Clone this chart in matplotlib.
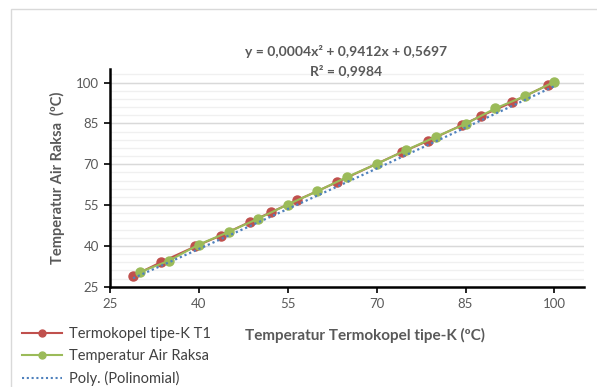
import numpy as np
import matplotlib
matplotlib.use('Agg')
import matplotlib.pyplot as plt
from matplotlib.lines import Line2D
from matplotlib.patches import Rectangle

plt.rcParams['font.family'] = ['Lato', 'DejaVu Sans']

# data
t1_x = [28.9, 33.6, 39.4, 43.7, 48.6, 52.2, 56.6, 63.3, 74.2, 78.7, 84.4, 87.7, 92.8, 98.9]
t1_y = [29.0, 34.0, 39.8, 43.8, 48.8, 52.4, 56.8, 63.4, 74.4, 78.6, 84.4, 87.8, 92.7, 99.1]
raksa_x = [30, 35, 40, 45, 50, 55, 60, 65, 70, 75, 80, 85, 90, 95, 100]
raksa_y = [30.3, 34.6, 40.5, 45.1, 50.0, 55.2, 60.1, 65.3, 70.1, 75.2, 80.1, 84.8, 90.5, 95.0, 100.3]
poly_coef = [0.0004, 0.9412, 0.5697]   # from the trendline label
ticks = [25, 40, 55, 70, 85, 100]

red = '#C0504D'
green = '#9BBB59'
blue = '#4F81BD'
txt = '#595959'

fig = plt.figure(figsize=(5.97, 3.87), dpi=100)
W, H = 597, 387

# chart area border
fig.patches.append(Rectangle((11 / W, -0.1), 1.2, 1 - 9 / H + 0.1, transform=fig.transFigure,
                             fill=False, edgecolor='#D9D9D9', lw=1))

ax = fig.add_axes([110 / W, 1 - 286.7 / H, (584 - 110) / W, (286.7 - 69) / H])
ax.set_xlim(25, 105)
ax.set_ylim(25, 105)

# grid
for v in np.arange(28, 105, 3):
    ax.axhline(v, color='#F0F0F0', lw=1, zorder=0)
for v in ticks[1:]:
    ax.axhline(v, color='#D9D9D9', lw=1, zorder=0)

ax.plot(t1_x, t1_y, color=red, lw=1.5, marker='o', ms=6.5, zorder=3)
ax.plot(raksa_x, raksa_y, color=green, lw=1.5, marker='o', ms=6.5, zorder=4)
xs = np.linspace(min(t1_x), 100, 200)
ax.plot(xs, np.polyval(poly_coef, xs), color=blue, lw=1.6, ls=(0, (1, 1.3)), zorder=5)

ax.set_xticks(ticks)
ax.set_yticks(ticks)
ax.tick_params(length=4, width=1.2, color='black', labelcolor=txt, labelsize=9.5, pad=4)
for s in ['top', 'right']:
    ax.spines[s].set_visible(False)
for s in ['left', 'bottom']:
    ax.spines[s].set_linewidth(1.8)

ax.text(346 / W, 1 - 52 / H, 'y = 0,0004x² + 0,9412x + 0,5697', transform=fig.transFigure,
        ha='center', va='center', fontsize=10, color=txt, fontweight='bold')
ax.text(346 / W, 1 - 70.5 / H, 'R² = 0,9984', transform=fig.transFigure,
        ha='center', va='center', fontsize=10, color=txt, fontweight='bold')

fig.text(365 / W, 1 - 335 / H, 'Temperatur Termokopel tipe-K (ºC)', ha='center', va='center',
         fontsize=11, fontweight='bold', color=txt)
fig.text(57 / W, 1 - 178 / H, 'Temperatur Air Raksa  (ºC)', ha='center', va='center',
         rotation=90, fontsize=10.5, fontweight='bold', color=txt)

handles = [Line2D([], [], color=red, lw=1.5, marker='o', ms=5),
           Line2D([], [], color=green, lw=1.5, marker='o', ms=5),
           Line2D([], [], color=blue, lw=1.5, ls=(0, (1, 1.3)))]
labels = ['Termokopel tipe-K T1', 'Temperatur Air Raksa', 'Poly. (Polinomial)']
leg = fig.legend(handles, labels, loc='upper left', bbox_to_anchor=(22 / W, 1 - 327 / H),
                 frameon=False, fontsize=10.5, handlelength=2.75, handletextpad=0.5,
                 labelspacing=0.55, borderpad=0, borderaxespad=0)
for t in leg.get_texts():
    t.set_color('#404040')

fig.savefig('out.png', dpi=100)
